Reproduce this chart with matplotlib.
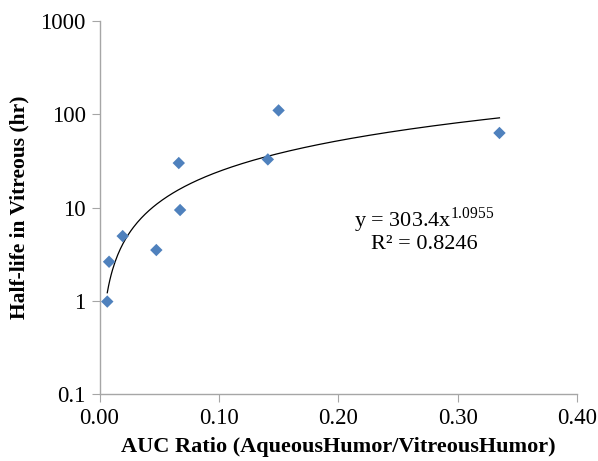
import numpy as np
import matplotlib
matplotlib.use("Agg")
import matplotlib.pyplot as plt
from matplotlib.ticker import FixedLocator, FixedFormatter

# data
auc_ratio = [0.0065, 0.008, 0.0194, 0.0476, 0.0664, 0.0675, 0.141, 0.150, 0.335]
half_life = [0.98, 2.62, 4.94, 3.5, 30.0, 9.4, 32.8, 110.0, 63.0]

# power trendline y = a * x^b
fit_a = 303.4
fit_b = 1.0955
fit_r2 = 0.8246

x_ticks = [0.0, 0.1, 0.2, 0.3, 0.4]
x_labels = ["0.00", "0.10", "0.20", "0.30", "0.40"]
y_ticks = [0.1, 1, 10, 100, 1000]
y_labels = ["0.1", "1", "10", "100", "1000"]

plt.rcParams["font.family"] = ["Liberation Serif", "DejaVu Serif"]
plt.rcParams["mathtext.fontset"] = "custom"
plt.rcParams["mathtext.rm"] = "Liberation Serif"

fig = plt.figure(figsize=(5.98, 4.61), dpi=100)
ax = fig.add_axes([0.1664, 0.1453, 0.7986, 0.8091])

xs = np.linspace(min(auc_ratio), max(auc_ratio), 300)
ax.plot(xs, fit_a * xs ** fit_b, color="black", lw=0.9, zorder=2)
ax.scatter(auc_ratio, half_life, marker="D", s=40, color="#4F81BD",
           edgecolors="none", zorder=3)

ax.set_yscale("log")
ax.set_xlim(0, 0.4)
ax.set_ylim(0.1, 1000)
ax.xaxis.set_major_locator(FixedLocator(x_ticks))
ax.xaxis.set_major_formatter(FixedFormatter(x_labels))
ax.yaxis.set_major_locator(FixedLocator(y_ticks))
ax.yaxis.set_major_formatter(FixedFormatter(y_labels))
ax.yaxis.set_minor_locator(FixedLocator([]))

for side in ["top", "right"]:
    ax.spines[side].set_visible(False)
for side in ["left", "bottom"]:
    ax.spines[side].set_color("#A6A6A6")
    ax.spines[side].set_linewidth(1.0)
ax.tick_params(axis="both", which="major", direction="out", length=6,
               color="#A6A6A6", labelsize=16.5, pad=4)

ax.set_xlabel("AUC Ratio (AqueousHumor/VitreousHumor)", fontsize=16,
              fontweight="bold", labelpad=6)
ax.set_ylabel("Half-life in Vitreous (hr)", fontsize=15.5,
              fontweight="bold", labelpad=8)

ax.text(0.272, 7.3, "y = {}x$^{{{}}}$".format(fit_a, fit_b), fontsize=16,
        ha="center", va="center")
ax.text(0.272, 4.0, "R² = {}".format(fit_r2), fontsize=16,
        ha="center", va="center")

fig.savefig("out.png", dpi=100)
